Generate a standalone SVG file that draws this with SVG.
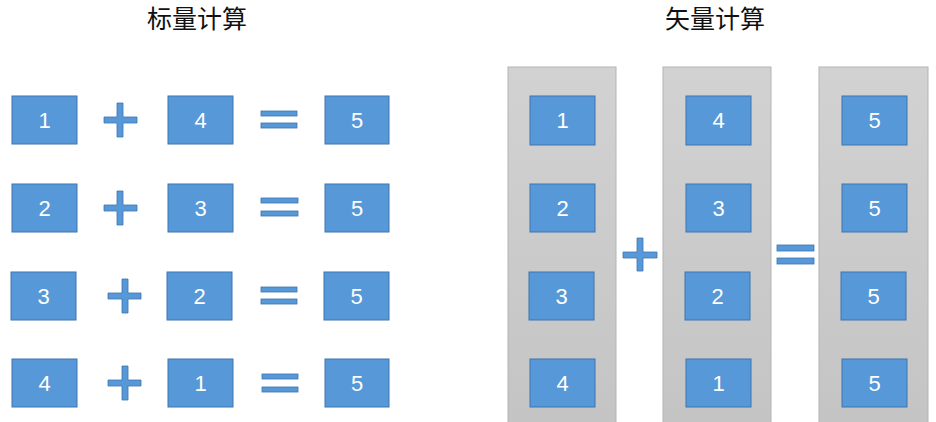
<svg xmlns="http://www.w3.org/2000/svg" width="936" height="422" viewBox="0 0 936 422">
<defs>
<linearGradient id="colg" x1="0" y1="0" x2="0" y2="1">
<stop offset="0" stop-color="#d2d2d2"/>
<stop offset="1" stop-color="#c4c4c4"/>
</linearGradient>
<style>
.box{fill:#5698d8;stroke:#3f74ad;stroke-width:1}
.num{fill:#ffffff;font-family:"Liberation Sans",Arial,sans-serif;font-size:22px;text-anchor:middle}
.op{fill:#5698d8;stroke:#3f74ad;stroke-width:0.8}
.col{fill:url(#colg);stroke:#b4b4b4;stroke-width:1}
.title{fill:#111111;font-family:"Liberation Sans","Noto Sans CJK SC",sans-serif;font-size:25px;text-anchor:middle}
</style>
</defs>
<rect width="936" height="422" fill="#ffffff"/>
<text class="title" x="197" y="28">标量计算</text>
<text class="title" x="715" y="28">矢量计算</text>

<g id="scalar">
<g id="s-r1">
<rect class="box" x="12" y="96" width="65" height="48"/><text class="num" x="44.5" y="128">1</text>
<path class="op" d="M117 103h6v14h14v6h-14v14h-6v-14h-13v-6h13z"/>
<rect class="box" x="168" y="96" width="65" height="48"/><text class="num" x="200.5" y="128">4</text>
<rect class="op" x="261" y="111" width="36" height="5"/><rect class="op" x="261" y="123" width="36" height="5"/>
<rect class="box" x="325" y="96" width="64" height="48"/><text class="num" x="357" y="128">5</text>
</g>
<g id="s-r2">
<rect class="box" x="12" y="184" width="65" height="48"/><text class="num" x="44.5" y="216">2</text>
<path class="op" d="M117 191h6v14h14v6h-14v14h-6v-14h-13v-6h13z"/>
<rect class="box" x="168" y="184" width="65" height="48"/><text class="num" x="200.5" y="216">3</text>
<rect class="op" x="261" y="198" width="37" height="5"/><rect class="op" x="261" y="211" width="37" height="5"/>
<rect class="box" x="325" y="184" width="64" height="48"/><text class="num" x="357" y="216">5</text>
</g>
<g id="s-r3">
<rect class="box" x="11" y="272" width="65" height="48"/><text class="num" x="43.5" y="304">3</text>
<path class="op" d="M122 279h6v14h13v6h-13v14h-6v-14h-14v-6h14z"/>
<rect class="box" x="167" y="272" width="65" height="48"/><text class="num" x="199.5" y="304">2</text>
<rect class="op" x="261" y="287" width="36" height="5"/><rect class="op" x="261" y="299" width="36" height="5"/>
<rect class="box" x="324" y="272" width="65" height="48"/><text class="num" x="356.5" y="304">5</text>
</g>
<g id="s-r4">
<rect class="box" x="12" y="359" width="65" height="48"/><text class="num" x="44.5" y="391">4</text>
<path class="op" d="M122 366h6v14h13v6h-13v14h-6v-14h-14v-6h14z"/>
<rect class="box" x="168" y="359" width="65" height="48"/><text class="num" x="200.5" y="391">1</text>
<rect class="op" x="262" y="374" width="36" height="5"/><rect class="op" x="262" y="387" width="36" height="5"/>
<rect class="box" x="325" y="359" width="64" height="48"/><text class="num" x="357" y="391">5</text>
</g>
</g>

<g id="vector">
<g id="v-col1">
<rect class="col" x="508" y="67" width="108" height="360"/>
<rect class="box" x="530" y="96" width="65" height="49"/><text class="num" x="562.5" y="128">1</text>
<rect class="box" x="530" y="184" width="65" height="48"/><text class="num" x="562.5" y="216">2</text>
<rect class="box" x="529" y="272" width="65" height="48"/><text class="num" x="561.5" y="304">3</text>
<rect class="box" x="530" y="359" width="65" height="48"/><text class="num" x="562.5" y="391">4</text>
</g>
<path id="v-plus" class="op" d="M637 238h6v14h14v6h-14v13h-6v-13h-14v-6h14z"/>
<g id="v-col2">
<rect class="col" x="663" y="67" width="108" height="360"/>
<rect class="box" x="686" y="96" width="65" height="49"/><text class="num" x="718.5" y="128">4</text>
<rect class="box" x="686" y="184" width="65" height="48"/><text class="num" x="718.5" y="216">3</text>
<rect class="box" x="685" y="272" width="65" height="48"/><text class="num" x="717.5" y="304">2</text>
<rect class="box" x="686" y="359" width="65" height="48"/><text class="num" x="718.5" y="391">1</text>
</g>
<g id="v-eq">
<rect class="op" x="777" y="245" width="37" height="6"/><rect class="op" x="777" y="258" width="37" height="6"/>
</g>
<g id="v-col3">
<rect class="col" x="819" y="67" width="109" height="360"/>
<rect class="box" x="842" y="96" width="65" height="49"/><text class="num" x="874.5" y="128">5</text>
<rect class="box" x="842" y="184" width="65" height="48"/><text class="num" x="874.5" y="216">5</text>
<rect class="box" x="841" y="272" width="65" height="48"/><text class="num" x="873.5" y="304">5</text>
<rect class="box" x="842" y="359" width="65" height="48"/><text class="num" x="874.5" y="391">5</text>
</g>
</g>
</svg>
